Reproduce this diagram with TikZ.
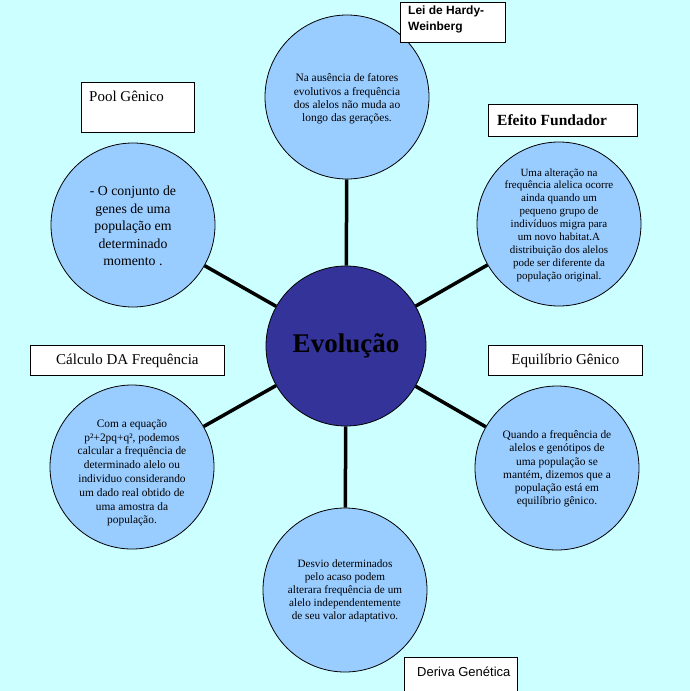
\documentclass[tikz,border=0pt]{standalone}
\usepackage{fontspec}
\setmainfont{Liberation Serif}
\newfontfamily\labelsans{Liberation Sans}
\definecolor{bgcyan}{RGB}{204,255,255}
\definecolor{bubblecol}{RGB}{153,204,255}
\definecolor{corecol}{RGB}{51,51,153}
\begin{document}
\begin{tikzpicture}[x=1pt,y=-1pt,
  bubble/.style={circle, draw=black, line width=0.8pt, fill=bubblecol, minimum size=164pt, inner sep=0pt, align=center},
  bubbletext/.style={inner sep=0pt, align=center},
  link/.style={line width=3.5pt, draw=black},
  tagbox/.style={draw=black, line width=0.8pt, fill=white, inner sep=0pt, anchor=north west},
  tagtext/.style={inner sep=0pt, font=\fontsize{15}{18}\selectfont}
]
\useasboundingbox (0,0) rectangle (690,691);
\fill[bgcyan] (0,0) rectangle (690,691);

% centre
\node[circle, draw=black, line width=0.8pt, fill=corecol, minimum size=160pt, inner sep=0pt,
      font=\fontsize{27}{30}\selectfont\bfseries] (evo) at (346,346) {Evolução};

% outer bubbles
\node[bubble] (hardy) at (347,97) {};
\node[bubbletext, font=\fontsize{11.4}{13.3}\selectfont] (hardytext) at (347,99)
  {Na ausência de fatores\\evolutivos a frequência\\dos alelos não muda ao\\longo das gerações.};
\node[bubble] (pool) at (133,225) {};
\node[bubbletext, font=\fontsize{13.8}{17.5}\selectfont] (pooltxt) at (133,226)
  {- O conjunto de\\genes de uma\\população em\\determinado\\momento .};
\node[bubble] (fund) at (559,224) {};
\node[bubbletext, font=\fontsize{11}{12.9}\selectfont] (fundtxt) at (559,225)
  {Uma alteração na\\frequência alelica ocorre\\ainda quando um\\pequeno grupo de\\indivíduos migra para\\um novo habitat.A\\distribuição dos alelos\\pode ser diferente da\\população original.};
\node[bubble] (calc) at (132,467) {};
\node[bubbletext, font=\fontsize{11.4}{13.8}\selectfont] (calctxt) at (132,473)
  {Com a equação\\p²+2pq+q², podemos\\calcular a frequência de\\determinado alelo ou\\individuo considerando\\um dado real obtido de\\uma amostra da\\população.};
\node[bubble] (equil) at (557,468) {};
\node[bubbletext, font=\fontsize{11.4}{13.2}\selectfont] (equiltxt) at (557,469)
  {Quando a frequência de\\alelos e genótipos de\\uma população se\\mantém, dizemos que a\\população está em\\equilíbrio gênico.};
\node[bubble] (deriva) at (345,590) {};
\node[bubbletext, font=\fontsize{11.2}{13}\selectfont] (derivatxt) at (345,591)
  {Desvio determinados\\pelo acaso podem\\alterara frequência de um\\alelo independentemente\\de seu valor adaptativo.};

% connectors
\draw[link] (evo) -- (hardy);
\draw[link] (evo) -- (pool);
\draw[link] (evo) -- (fund);
\draw[link] (evo) -- (calc);
\draw[link] (evo) -- (equil);
\draw[link] (evo) -- (deriva);

% title boxes
\node[tagbox, minimum width=105pt, minimum height=40pt] (hwbox) at (400,2) {};
\node[anchor=north west, align=left, inner sep=0pt,
      font=\labelsans\bfseries\fontsize{12}{15.5}\selectfont] (hwtext) at (408,6) {Lei de Hardy-\\Weinberg};

\node[tagbox, minimum width=113pt, minimum height=50pt] (poolbox) at (81,82) {};
\node[tagtext, anchor=west] (pooltext) at (89,96) {Pool Gênico};

\node[tagbox, minimum width=149pt, minimum height=32pt] (fundbox) at (488,104) {};
\node[tagtext, anchor=west, font=\fontsize{15.5}{18}\selectfont\bfseries] (fundtext) at (497,120) {Efeito Fundador};

\node[tagbox, minimum width=194pt, minimum height=30pt] (calcbox) at (30,345) {};
\node[tagtext] (calctext) at (calcbox.center) {Cálculo DA Frequência};

\node[tagbox, minimum width=154pt, minimum height=30pt] (equilbox) at (488,345) {};
\node[tagtext] (equiltext) at (equilbox.center) {Equilíbrio Gênico};

\node[tagbox, minimum width=113pt, minimum height=45pt] (derivabox) at (404,657) {};
\node[anchor=west, inner sep=0pt, font=\labelsans\fontsize{13}{15}\selectfont] (derivatext) at (417,672) {Deriva Genética};
\end{tikzpicture}
\end{document}
